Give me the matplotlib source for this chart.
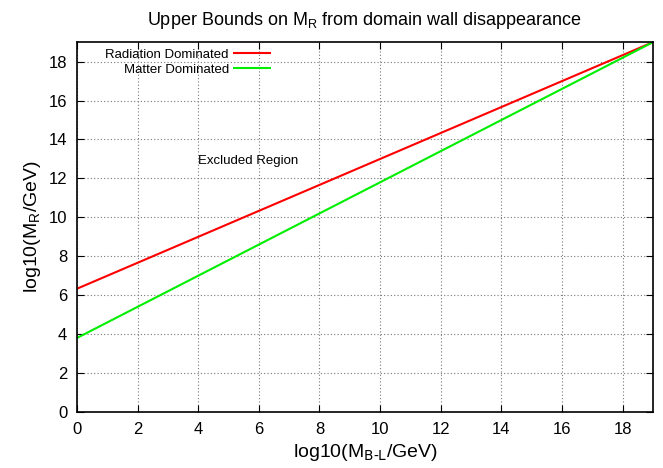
import matplotlib
matplotlib.use("Agg")
import matplotlib.pyplot as plt
import numpy as np

plt.rcParams['font.family'] = ['Liberation Sans', 'DejaVu Sans']

# log10(M_B-L / GeV) end points and bounds on log10(M_R / GeV)
x_vals = [0, 19]
radiation = [6.33, 19.0]
matter = [3.8, 19.0]
xticks = list(range(0, 19, 2))
yticks = list(range(0, 19, 2))

fig = plt.figure(figsize=(6.63, 4.68), dpi=100)
ax = fig.add_axes([0.116, 0.1197, 0.869, 0.7903])

ax.plot(x_vals, radiation, color='#ff0000', lw=1.5, label='Radiation Dominated')
ax.plot(x_vals, matter, color='#00ee00', lw=1.5, label='Matter Dominated')

ax.set_xlim(0, 19)
ax.set_ylim(0, 19)
ax.set_xticks(xticks)
ax.set_yticks(yticks)
ax.tick_params(direction='in', top=True, right=True, length=5, labelsize=12, pad=7)
ax.grid(True, color='#777777', linestyle=(0, (1, 2)), linewidth=0.8)
for s in ax.spines.values():
    s.set_linewidth(1.2)

ax.set_xlabel(r'log10(M$_{\text{B-L}}$/GeV)', fontsize=14)
ax.set_ylabel(r'log10(M$_{\mathregular{R}}$/GeV)', fontsize=14)
ax.set_title(r'Upper Bounds on M$_{\mathregular{R}}$ from domain wall disappearance',
             fontsize=13, pad=12)

ax.text(4, 12.9, 'Excluded Region', fontsize=9.5, va='center')

ax.legend(loc='upper left', bbox_to_anchor=(0.038, 1.0), frameon=False, markerfirst=False,
          fontsize=9.5, handlelength=2.7, handletextpad=0.4, labelspacing=0.2,
          borderaxespad=0.1)

fig.savefig('out.png', dpi=100)
